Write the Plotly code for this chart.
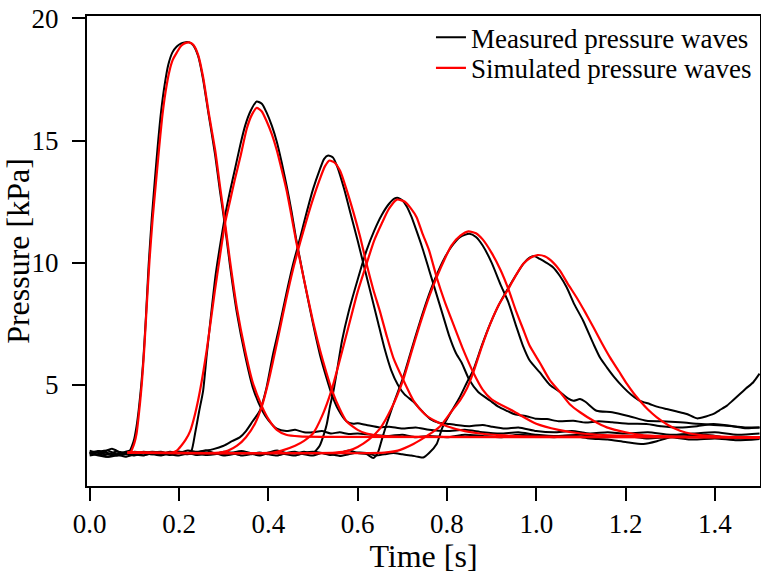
import plotly.graph_objects as go

# ---------------- data ----------------
# Measured pressure waves (black)
m1_t = [0.00, 0.01, 0.02, 0.03, 0.04, 0.05, 0.06, 0.07, 0.08, 0.09, 0.095, 0.10, 0.105, 0.11, 0.115, 0.12, 0.126, 0.132, 0.139, 0.146, 0.153, 0.160, 0.168, 0.176, 0.185, 0.195, 0.205, 0.215, 0.223, 0.232, 0.243, 0.254, 0.266, 0.281, 0.292, 0.303, 0.314, 0.330, 0.348, 0.365, 0.386, 0.40, 0.419, 0.44, 0.46, 0.48, 0.50, 0.52, 0.54, 0.56, 0.58, 0.60, 0.63, 0.67, 0.70, 0.73, 0.76, 0.80, 0.84, 0.88, 0.92, 0.96, 1.00, 1.04, 1.08, 1.12, 1.16, 1.20, 1.24, 1.27, 1.30, 1.34, 1.38, 1.42, 1.46, 1.50]
m1_p = [2.25, 2.18, 2.28, 2.20, 2.32, 2.38, 2.30, 2.20, 2.25, 2.30, 2.50, 2.80, 3.30, 4.00, 4.90, 6.00, 7.80, 9.90, 11.8, 13.4, 14.9, 16.2, 17.3, 18.1, 18.6, 18.85, 18.98, 19.03, 19.02, 18.9, 18.45, 17.5, 16.1, 14.4, 12.9, 11.5, 9.9, 7.9, 6.2, 4.9, 3.95, 3.55, 3.20, 3.10, 3.15, 3.05, 3.05, 3.10, 3.00, 3.05, 2.98, 3.00, 2.95, 2.90, 2.95, 2.85, 2.90, 2.85, 2.95, 2.90, 2.85, 2.95, 2.90, 2.85, 2.90, 2.80, 2.75, 2.65, 2.57, 2.68, 2.85, 2.90, 2.95, 2.85, 2.80, 2.85]

m2_t = [0.00, 0.02, 0.04, 0.06, 0.08, 0.10, 0.12, 0.14, 0.16, 0.18, 0.20, 0.22, 0.228, 0.236, 0.245, 0.254, 0.262, 0.272, 0.282, 0.292, 0.303, 0.314, 0.325, 0.337, 0.348, 0.360, 0.374, 0.386, 0.396, 0.408, 0.419, 0.430, 0.441, 0.452, 0.462, 0.48, 0.50, 0.516, 0.53, 0.542, 0.556, 0.575, 0.59, 0.60, 0.62, 0.65, 0.67, 0.70, 0.73, 0.76, 0.80, 0.84, 0.88, 0.92, 0.96, 1.00, 1.05, 1.10, 1.15, 1.20, 1.25, 1.30, 1.35, 1.40, 1.45, 1.50]
m2_p = [2.20, 2.10, 2.05, 2.15, 2.20, 2.12, 2.20, 2.15, 2.22, 2.18, 2.25, 2.20, 2.30, 3.00, 3.90, 4.75, 6.20, 7.90, 9.50, 10.7, 11.9, 12.9, 13.8, 14.8, 15.6, 16.2, 16.6, 16.5, 16.15, 15.6, 14.95, 14.1, 13.15, 12.1, 11.0, 9.3, 7.5, 6.2, 5.3, 4.6, 4.0, 3.5, 3.40, 3.42, 3.35, 3.25, 3.28, 3.20, 3.25, 3.15, 3.10, 3.15, 3.05, 3.00, 3.05, 2.95, 2.90, 2.95, 2.85, 2.90, 2.80, 2.85, 2.75, 2.80, 2.72, 2.78]

m3_t = [0.00, 0.02, 0.04, 0.06, 0.08, 0.10, 0.12, 0.14, 0.16, 0.18, 0.20, 0.22, 0.24, 0.26, 0.277, 0.30, 0.32, 0.336, 0.35, 0.365, 0.381, 0.395, 0.41, 0.425, 0.44, 0.455, 0.471, 0.485, 0.50, 0.515, 0.525, 0.534, 0.545, 0.555, 0.57, 0.585, 0.60, 0.615, 0.63, 0.645, 0.66, 0.675, 0.69, 0.705, 0.725, 0.745, 0.762, 0.78, 0.80, 0.82, 0.85, 0.88, 0.90, 0.93, 0.96, 1.00, 1.04, 1.08, 1.12, 1.16, 1.20, 1.25, 1.30, 1.35, 1.40, 1.45, 1.50]
m3_p = [2.15, 2.25, 2.30, 2.15, 2.05, 2.15, 2.25, 2.20, 2.15, 2.25, 2.20, 2.30, 2.25, 2.30, 2.36, 2.50, 2.70, 2.84, 3.10, 3.50, 3.93, 4.80, 6.20, 7.40, 8.70, 9.90, 11.0, 12.0, 13.0, 13.8, 14.25, 14.39, 14.3, 13.9, 13.0, 11.95, 10.9, 9.8, 8.7, 7.6, 6.5, 5.6, 5.0, 4.6, 4.3, 3.9, 3.6, 3.45, 3.40, 3.35, 3.30, 3.35, 3.28, 3.20, 3.25, 3.10, 3.05, 3.10, 3.00, 3.05, 3.00, 3.05, 2.95, 3.00, 3.05, 2.95, 3.00]

m4_t = [0.00, 0.02, 0.04, 0.06, 0.08, 0.10, 0.12, 0.14, 0.16, 0.18, 0.20, 0.22, 0.24, 0.26, 0.28, 0.30, 0.32, 0.34, 0.36, 0.38, 0.40, 0.42, 0.44, 0.46, 0.48, 0.50, 0.515, 0.525, 0.531, 0.538, 0.546, 0.555, 0.565, 0.58, 0.60, 0.62, 0.637, 0.654, 0.67, 0.683, 0.691, 0.70, 0.71, 0.72, 0.73, 0.745, 0.76, 0.775, 0.79, 0.805, 0.82, 0.833, 0.85, 0.87, 0.897, 0.915, 0.934, 0.95, 0.964, 0.98, 1.00, 1.024, 1.05, 1.083, 1.11, 1.14, 1.17, 1.21, 1.247, 1.28, 1.32, 1.36, 1.397, 1.44, 1.47, 1.50]
m4_p = [2.30, 2.20, 2.15, 2.25, 2.20, 2.10, 2.18, 2.25, 2.20, 2.12, 2.20, 2.15, 2.22, 2.30, 2.20, 2.15, 2.22, 2.28, 2.20, 2.15, 2.22, 2.30, 2.20, 2.18, 2.25, 2.20, 2.50, 3.00, 3.39, 4.10, 4.75, 5.70, 6.80, 8.00, 9.30, 10.5, 11.3, 11.95, 12.4, 12.63, 12.65, 12.55, 12.3, 11.9, 11.4, 10.6, 9.7, 8.8, 7.9, 7.0, 6.3, 5.9, 5.2, 4.7, 4.34, 4.10, 3.93, 3.80, 3.75, 3.70, 3.60, 3.59, 3.50, 3.52, 3.45, 3.50, 3.46, 3.40, 3.39, 3.30, 3.25, 3.30, 3.39, 3.30, 3.22, 3.25]

m5_t = [0.00, 0.02, 0.04, 0.06, 0.08, 0.10, 0.12, 0.14, 0.16, 0.18, 0.20, 0.22, 0.24, 0.26, 0.28, 0.30, 0.32, 0.34, 0.36, 0.38, 0.40, 0.42, 0.44, 0.46, 0.48, 0.50, 0.52, 0.54, 0.56, 0.58, 0.60, 0.62, 0.635, 0.645, 0.655, 0.665, 0.68, 0.702, 0.72, 0.74, 0.76, 0.777, 0.795, 0.81, 0.83, 0.85, 0.865, 0.88, 0.90, 0.92, 0.937, 0.955, 0.97, 0.985, 1.008, 1.03, 1.053, 1.07, 1.083, 1.098, 1.11, 1.135, 1.17, 1.21, 1.247, 1.28, 1.322, 1.36, 1.397, 1.44, 1.47, 1.50]
m5_p = [2.20, 2.28, 2.20, 2.10, 2.15, 2.25, 2.20, 2.15, 2.10, 2.18, 2.25, 2.20, 2.12, 2.15, 2.20, 2.10, 2.15, 2.22, 2.18, 2.10, 2.20, 2.25, 2.15, 2.10, 2.20, 2.25, 2.20, 2.12, 2.20, 2.30, 2.20, 2.16, 2.00, 2.20, 2.80, 3.39, 4.20, 5.30, 6.40, 7.60, 8.70, 9.50, 10.2, 10.65, 11.05, 11.18, 11.05, 10.7, 10.0, 9.1, 8.4, 7.4, 6.6, 6.0, 5.5, 5.0, 4.7, 4.45, 4.34, 4.41, 4.30, 3.93, 3.87, 3.70, 3.52, 3.50, 3.46, 3.40, 3.35, 3.30, 3.25, 3.25]

m6_t = [0.00, 0.02, 0.04, 0.06, 0.08, 0.10, 0.12, 0.14, 0.16, 0.18, 0.20, 0.22, 0.24, 0.26, 0.28, 0.30, 0.32, 0.34, 0.36, 0.38, 0.40, 0.42, 0.44, 0.46, 0.48, 0.50, 0.52, 0.54, 0.56, 0.58, 0.60, 0.62, 0.64, 0.66, 0.68, 0.70, 0.72, 0.735, 0.747, 0.76, 0.777, 0.79, 0.81, 0.829, 0.845, 0.859, 0.878, 0.897, 0.917, 0.937, 0.955, 0.971, 0.985, 0.995, 1.008, 1.022, 1.038, 1.053, 1.068, 1.085, 1.105, 1.128, 1.143, 1.158, 1.175, 1.195, 1.212, 1.232, 1.254, 1.27, 1.292, 1.315, 1.337, 1.36, 1.38, 1.397, 1.41, 1.427, 1.44, 1.456, 1.47, 1.486, 1.50]
m6_p = [2.10, 2.15, 2.05, 2.10, 2.20, 2.15, 2.10, 2.20, 2.25, 2.15, 2.10, 2.18, 2.20, 2.12, 2.15, 2.25, 2.20, 2.10, 2.15, 2.22, 2.15, 2.10, 2.20, 2.25, 2.15, 2.10, 2.20, 2.15, 2.08, 2.15, 2.22, 2.20, 2.10, 2.15, 2.20, 2.15, 2.10, 2.05, 2.02, 2.20, 2.57, 3.25, 3.90, 4.50, 5.10, 5.60, 6.60, 7.50, 8.30, 8.95, 9.50, 9.95, 10.2, 10.27, 10.15, 10.0, 9.8, 9.45, 8.99, 8.30, 7.62, 6.67, 6.10, 5.71, 5.30, 4.89, 4.60, 4.34, 4.21, 4.10, 4.00, 3.90, 3.80, 3.62, 3.70, 3.80, 3.95, 4.14, 4.35, 4.62, 4.85, 5.10, 5.45]

# Simulated pressure waves (red)
s1_t = [0.085, 0.092, 0.096, 0.100, 0.105, 0.109, 0.113, 0.117, 0.122, 0.128, 0.134, 0.141, 0.148, 0.155, 0.162, 0.170, 0.178, 0.186, 0.195, 0.205, 0.215, 0.223, 0.232, 0.243, 0.254, 0.266, 0.281, 0.292, 0.303, 0.314, 0.330, 0.348, 0.365, 0.386, 0.400, 0.419, 0.440, 0.470, 0.520, 1.500]
s1_p = [2.22, 2.24, 2.40, 2.60, 3.00, 3.60, 4.30, 5.10, 6.40, 8.30, 10.1, 11.8, 13.2, 14.6, 15.9, 17.0, 17.8, 18.3, 18.6, 18.88, 19.0, 19.02, 18.92, 18.5, 17.6, 16.2, 14.6, 13.1, 11.65, 10.1, 8.1, 6.4, 5.1, 4.1, 3.6, 3.15, 2.95, 2.88, 2.86, 2.85]

s2_t = [0.085, 0.185, 0.195, 0.205, 0.215, 0.225, 0.236, 0.247, 0.262, 0.280, 0.292, 0.303, 0.314, 0.325, 0.337, 0.352, 0.363, 0.374, 0.385, 0.396, 0.408, 0.419, 0.430, 0.441, 0.452, 0.462, 0.480, 0.500, 0.516, 0.530, 0.542, 0.560, 0.575, 0.600, 0.620, 0.650, 0.700, 1.500]
s2_p = [2.22, 2.22, 2.30, 2.50, 2.75, 3.10, 3.80, 4.75, 6.40, 8.80, 10.3, 11.6, 12.5, 13.4, 14.3, 15.5, 16.05, 16.34, 16.2, 15.8, 15.25, 14.6, 13.8, 12.95, 11.9, 10.9, 9.3, 7.6, 6.4, 5.5, 4.8, 4.0, 3.5, 3.15, 3.00, 2.90, 2.86, 2.85]

s3_t = [0.085, 0.290, 0.310, 0.330, 0.350, 0.370, 0.386, 0.400, 0.411, 0.425, 0.440, 0.455, 0.471, 0.485, 0.500, 0.515, 0.527, 0.537, 0.548, 0.561, 0.575, 0.590, 0.605, 0.620, 0.635, 0.650, 0.665, 0.680, 0.702, 0.725, 0.750, 0.775, 0.800, 0.840, 0.874, 0.930, 1.000, 1.500]
s3_p = [2.22, 2.22, 2.30, 2.50, 2.85, 3.40, 4.14, 5.10, 6.00, 7.20, 8.50, 9.70, 10.8, 11.7, 12.6, 13.4, 13.95, 14.18, 14.1, 13.75, 13.0, 12.1, 11.1, 9.95, 8.9, 8.0, 7.0, 6.1, 5.2, 4.35, 3.8, 3.5, 3.3, 3.1, 3.0, 2.92, 2.87, 2.85]

s4_t = [0.085, 0.410, 0.430, 0.460, 0.480, 0.500, 0.520, 0.542, 0.560, 0.580, 0.600, 0.620, 0.637, 0.654, 0.670, 0.688, 0.705, 0.720, 0.732, 0.745, 0.760, 0.777, 0.795, 0.814, 0.835, 0.859, 0.880, 0.900, 0.950, 1.000, 1.050, 1.100, 1.200, 1.300, 1.500]
s4_p = [2.22, 2.22, 2.30, 2.50, 2.70, 3.00, 3.70, 4.80, 6.00, 7.40, 8.80, 9.95, 10.9, 11.6, 12.2, 12.58, 12.5, 12.2, 11.86, 11.2, 10.5, 9.4, 8.4, 7.49, 6.5, 5.5, 4.8, 4.4, 3.9, 3.4, 3.15, 3.0, 2.9, 2.86, 2.85]

s5_t = [0.085, 0.550, 0.580, 0.600, 0.625, 0.650, 0.675, 0.702, 0.720, 0.740, 0.760, 0.777, 0.795, 0.810, 0.830, 0.848, 0.865, 0.880, 0.900, 0.920, 0.9375, 0.955, 0.970, 0.985, 1.008, 1.030, 1.053, 1.075, 1.098, 1.130, 1.158, 1.200, 1.232, 1.290, 1.344, 1.500]
s5_p = [2.22, 2.22, 2.30, 2.45, 2.75, 3.20, 4.00, 5.20, 6.30, 7.50, 8.60, 9.40, 10.15, 10.7, 11.1, 11.28, 11.2, 10.95, 10.4, 9.7, 8.92, 8.0, 7.3, 6.6, 5.9, 5.2, 4.7, 4.2, 3.87, 3.5, 3.25, 3.05, 2.95, 2.88, 2.85, 2.85]

s6_t = [0.085, 0.660, 0.690, 0.725, 0.755, 0.785, 0.810, 0.829, 0.845, 0.859, 0.878, 0.897, 0.917, 0.9375, 0.955, 0.971, 0.987, 1.003, 1.020, 1.038, 1.053, 1.070, 1.090, 1.110, 1.128, 1.147, 1.165, 1.185, 1.203, 1.218, 1.232, 1.250, 1.270, 1.295, 1.322, 1.350, 1.382, 1.420, 1.456, 1.500]
s6_p = [2.22, 2.22, 2.30, 2.57, 2.90, 3.30, 3.90, 4.35, 4.85, 5.50, 6.55, 7.49, 8.30, 8.92, 9.50, 9.95, 10.2, 10.31, 10.25, 10.0, 9.67, 9.15, 8.58, 7.95, 7.35, 6.70, 6.12, 5.55, 5.03, 4.65, 4.34, 3.98, 3.66, 3.35, 3.11, 2.98, 2.91, 2.86, 2.83, 2.82]

x_tickvals = [0.0, 0.2, 0.4, 0.6, 0.8, 1.0, 1.2, 1.4]
x_ticktext = ["0.0", "0.2", "0.4", "0.6", "0.8", "1.0", "1.2", "1.4"]
y_tickvals = [5, 10, 15, 20]
y_ticktext = ["5", "10", "15", "20"]

measured = [(m1_t, m1_p), (m2_t, m2_p), (m3_t, m3_p), (m4_t, m4_p), (m5_t, m5_p), (m6_t, m6_p)]
simulated = [(s1_t, s1_p), (s2_t, s2_p), (s3_t, s3_p), (s4_t, s4_p), (s5_t, s5_p), (s6_t, s6_p)]

FONT = "Liberation Serif"
FS = 27

fig = go.Figure()
for i, (t, p) in enumerate(measured):
    fig.add_trace(go.Scatter(x=t, y=p, mode="lines", line=dict(color="black", width=2, shape="spline", smoothing=0.6),
                             name="Measured pressure waves", legendgroup="m", showlegend=(i == 0), legend="legend"))
for i, (t, p) in enumerate(simulated):
    fig.add_trace(go.Scatter(x=t, y=p, mode="lines", line=dict(color="#ff0000", width=2.2, shape="spline", smoothing=0.6),
                             name="Simulated pressure waves", legendgroup="s", showlegend=(i == 0), legend="legend2"))

leg_common = dict(xanchor="left", yanchor="top", bgcolor="rgba(0,0,0,0)", borderwidth=0,
                  font=dict(family=FONT, size=FS, color="black"))
fig.update_layout(
    width=761, height=574,
    margin=dict(l=87, r=1, t=16, b=88, autoexpand=False),
    paper_bgcolor="white", plot_bgcolor="white",
    font=dict(family=FONT, size=FS, color="black"),
    showlegend=True,
    legend=dict(x=0.5111, y=1.006, **leg_common),
    legend2=dict(x=0.5111, y=0.941, **leg_common),
    xaxis=dict(range=[-0.006, 1.501], tickvals=x_tickvals, ticktext=x_ticktext, automargin=True,
               showgrid=False, zeroline=False, showline=True, linecolor="black", linewidth=2,
               mirror=True, ticks="outside", ticklen=13, tickwidth=2, tickcolor="black",
               ticklabelstandoff=0,
               title=dict(text="Time [s]", standoff=0)),
    yaxis=dict(range=[0.85, 20.1], tickvals=y_tickvals, ticktext=y_ticktext, automargin=True,
               showgrid=False, zeroline=False, showline=True, linecolor="black", linewidth=2,
               mirror=True, ticks="outside", ticklen=13, tickwidth=2, tickcolor="black",
               ticklabelstandoff=8,
               title=dict(text="Pressure [kPa]", standoff=4)),
)

fig.write_html("out.html", config={"displayModeBar": False},
               post_script="document.body.style.margin='0';document.body.style.overflow='hidden';")
